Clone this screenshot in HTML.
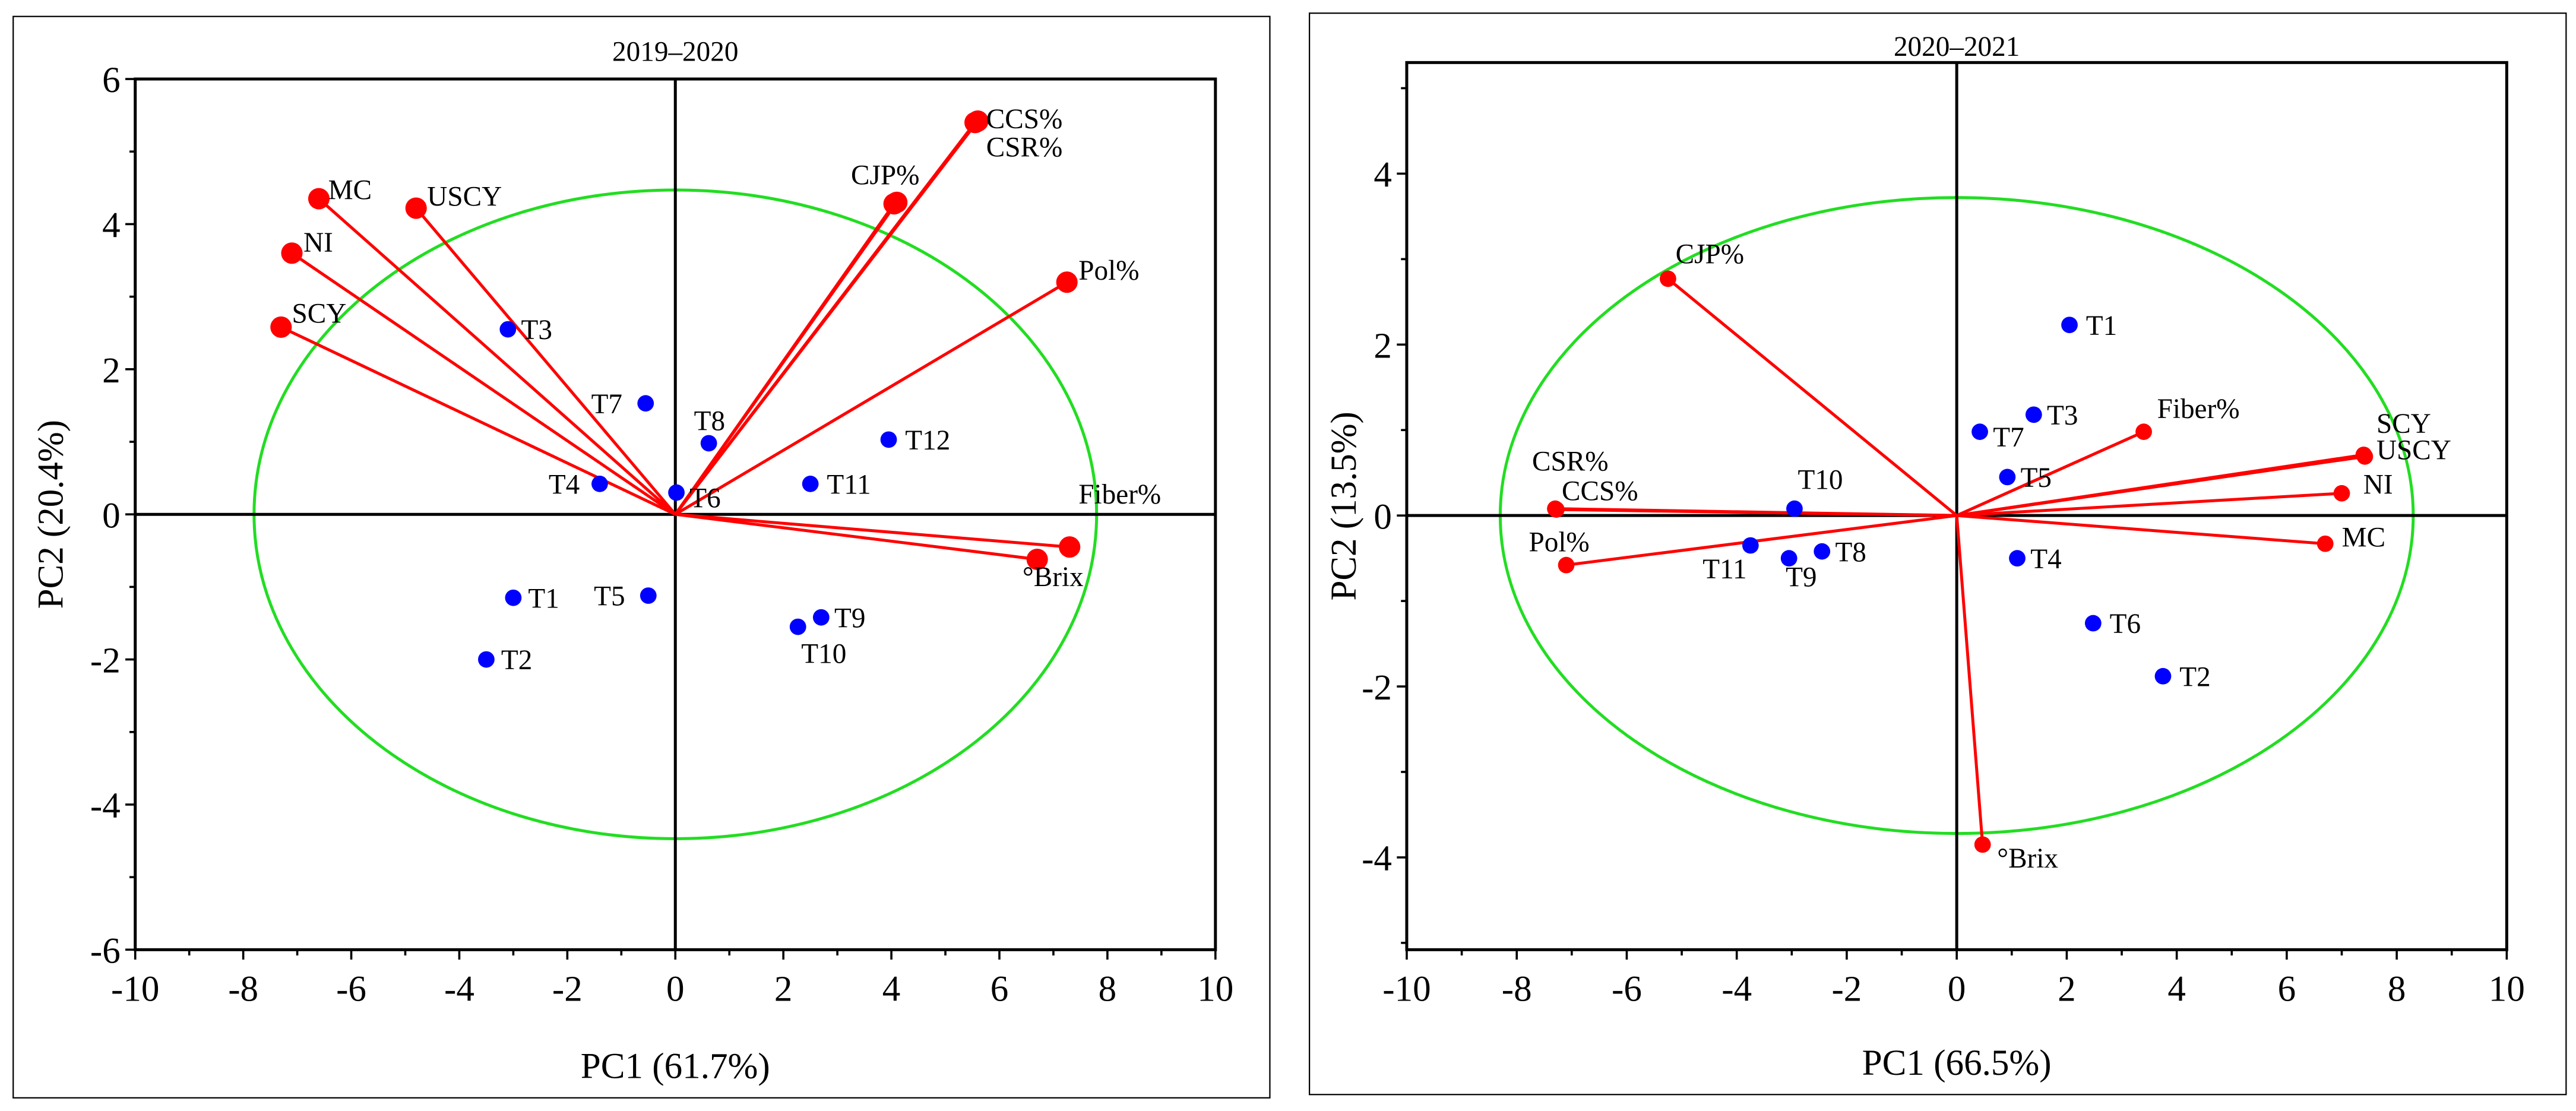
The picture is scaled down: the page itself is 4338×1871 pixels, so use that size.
<!DOCTYPE html>
<html><head><meta charset="utf-8"><style>
html,body{margin:0;padding:0;background:#fff;}
svg{display:block;}
svg text{font-family:"Liberation Serif","Times New Roman",serif;}
</style></head><body>
<svg id="s" width="4338" height="1871" viewBox="0 0 1562 675" preserveAspectRatio="none" xmlns="http://www.w3.org/2000/svg"></svg>
<script>
// ---- Panel 1 data (2019–2020)
const p1VarNames = ["CCS%","CSR%","CJP%","CJP2","Pol%","Fiber%","°Brix","MC","USCY","NI","SCY"];
const p1VarX = [5.6,5.55,4.05,4.1,7.25,7.3,6.7,-6.6,-4.8,-7.1,-7.3];
const p1VarY = [5.42,5.4,4.28,4.3,3.2,-0.45,-0.62,4.35,4.22,3.6,2.58];
const p1ObsNames = ["T1","T2","T3","T4","T5","T6","T7","T8","T9","T10","T11","T12"];
const p1ObsX = [-3.0,-3.5,-3.1,-1.4,-0.5,0.02,-0.55,0.62,2.7,2.27,2.5,3.95];
const p1ObsY = [-1.15,-2.0,2.55,0.42,-1.12,0.3,1.53,0.98,-1.42,-1.55,0.42,1.03];
// ---- Panel 2 data (2020–2021)
const p2VarNames = ["CJP%","CSR%","CCS%","Pol%","Fiber%","SCY","USCY","NI","MC","°Brix"];
const p2VarX = [-5.25,-7.3,-7.28,-7.1,3.4,7.4,7.42,7.0,6.7,0.47];
const p2VarY = [2.77,0.08,0.07,-0.58,0.98,0.71,0.69,0.26,-0.33,-3.85];
const p2ObsNames = ["T1","T2","T3","T4","T5","T6","T7","T8","T9","T10","T11"];
const p2ObsX = [2.05,3.75,1.4,1.1,0.92,2.48,0.42,-2.45,-3.05,-2.95,-3.75];
const p2ObsY = [2.23,-1.88,1.18,-0.5,0.45,-1.26,0.98,-0.42,-0.5,0.08,-0.35];

const NS="http://www.w3.org/2000/svg";
const svg=document.getElementById('s');
function el(tag,attrs,parent,text){const e=document.createElementNS(NS,tag);for(const k in attrs)e.setAttribute(k,attrs[k]);if(text!==undefined)e.textContent=text;(parent||svg).appendChild(e);return e;}

function panel(cfg){
  const g=el('g',{});
  
  
  const fr=el('rect',{x:cfg.fx,y:cfg.fy,width:cfg.fw,height:cfg.fh,fill:'none',stroke:'#000','stroke-width':0.8},g);
  
  
  const sx=v=>cfg.x0+(v+10)/20*(cfg.x1-cfg.x0);
  const sy=v=>cfg.yb+(v-cfg.ymin)/(cfg.ymax-cfg.ymin)*(cfg.yt-cfg.yb);
  const t=el('text',{x:(cfg.x0+cfg.x1)/2,y:cfg.titleY,'text-anchor':'middle','font-size':17},g,cfg.title);
  
  
  const e=el('ellipse',{cx:sx(0),cy:sy(0),rx:sx(cfg.erx)-sx(0),ry:sy(0)-sy(cfg.ery),fill:'none',stroke:'#22dd22','stroke-width':1.8},g);
  
  
  el('line',{x1:sx(0),x2:sx(0),y1:cfg.yt,y2:cfg.yb,stroke:'#000','stroke-width':1.8},g);
  el('line',{x1:cfg.x0,x2:cfg.x1,y1:sy(0),y2:sy(0),stroke:'#000','stroke-width':1.8},g);
  const b=el('rect',{x:cfg.x0,y:cfg.yt,width:cfg.x1-cfg.x0,height:cfg.yb-cfg.yt,fill:'none',stroke:'#000','stroke-width':1.8},g);
  
  
  for(let v=-10;v<=10;v++){
    const maj=v%2===0;
    el('line',{x1:sx(v),x2:sx(v),y1:cfg.yb,y2:cfg.yb+(maj?6:3.5),stroke:'#000','stroke-width':1.3},g);
    if(maj){const tl=el('text',{x:sx(v),y:cfg.yb+31,'text-anchor':'middle','font-size':22},g,String(v));
      }
  }
  for(let v=Math.ceil(cfg.ymin);v<=cfg.ymax;v++){
    const maj=v%2===0;
    el('line',{x1:cfg.x0,x2:cfg.x0-(maj?6:3.5),y1:sy(v),y2:sy(v),stroke:'#000','stroke-width':1.3},g);
    if(maj){const tl=el('text',{x:cfg.x0-9,y:sy(v)+8,'text-anchor':'end','font-size':22},g,String(v));
      }
  }
  const xt=el('text',{x:(cfg.x0+cfg.x1)/2,y:cfg.xtY,'text-anchor':'middle','font-size':22},g,cfg.xt);
  
  const yt=el('text',{x:0,y:0,'text-anchor':'middle','font-size':22,transform:`translate(${cfg.ytX},${(cfg.yt+cfg.yb)/2}) rotate(-90)`},g,cfg.yTitle);
  
  for(let i=0;i<cfg.vx.length;i++){
    const l=el('line',{x1:sx(0),y1:sy(0),x2:sx(cfg.vx[i]),y2:sy(cfg.vy[i]),stroke:'#f00','stroke-width':1.8},g);
    
  }
  for(let i=0;i<cfg.vx.length;i++){
    const c=el('circle',{cx:sx(cfg.vx[i]),cy:sy(cfg.vy[i]),r:cfg.vr,fill:'#f00'},g);
    
  }
  cfg.vlab.forEach(L=>{
    const tl=el('text',{x:L[1],y:L[2],'font-size':17},g,L[0]);
    
  });
  for(let i=0;i<cfg.ox.length;i++){
    const c=el('circle',{cx:sx(cfg.ox[i]),cy:sy(cfg.oy[i]),r:5,fill:'#0000ff'},g);
    
    const off=cfg.olab[i];
    const tl=el('text',{x:sx(cfg.ox[i])+off[0],y:sy(cfg.oy[i])+off[1],'font-size':17},g,cfg.on[i]);
    
  }
}

panel({name:'panel-2019-2020',fx:8,fy:10,fw:762,fh:657,x0:82,x1:737,yt:48,yb:577,ymin:-6,ymax:6,
 title:'2019–2020',titleY:37,xt:'PC1 (61.7%)',xtY:655,yTitle:'PC2 (20.4%)',ytX:38,erx:7.8,ery:4.47,vr:6.5,
 vx:p1VarX,vy:p1VarY,ox:p1ObsX,oy:p1ObsY,on:p1ObsNames,
 vlab:[["CCS%",598,78],["CSR%",598,95],["CJP%",516,112],["Pol%",654,170],["Fiber%",654,306],["°Brix",620,356],["MC",199,121],["USCY",259,125],["NI",184,153],["SCY",177,196]],
 olab:[[9,6],[9,6],[8,6],[-31,6],[-33,6],[8,9],[-33,6],[-9,-8],[8,6],[2,22],[10,6],[10,6]]});

panel({name:'panel-2020-2021',fx:794,fy:8,fw:762,fh:657,x0:853,x1:1520,yt:38,yb:577,ymin:-5.08,ymax:5.3,
 title:'2020–2021',titleY:34,xt:'PC1 (66.5%)',xtY:653,yTitle:'PC2 (13.5%)',ytX:822,erx:8.3,ery:3.72,vr:5,
 vx:p2VarX,vy:p2VarY,ox:p2ObsX,oy:p2ObsY,on:p2ObsNames,
 vlab:[["CJP%",1016,160],["CSR%",929,286],["CCS%",947,304],["Pol%",927,335],["Fiber%",1308,254],["SCY",1441,263],["USCY",1441,279],["NI",1433,300],["MC",1420,332],["°Brix",1211,527]],
 olab:[[10,6],[10,6],[8,6],[8,6],[8,6],[10,6],[8,9],[8,6],[-2,17],[2,-12],[-29,20]]});
</script>
</body></html>
